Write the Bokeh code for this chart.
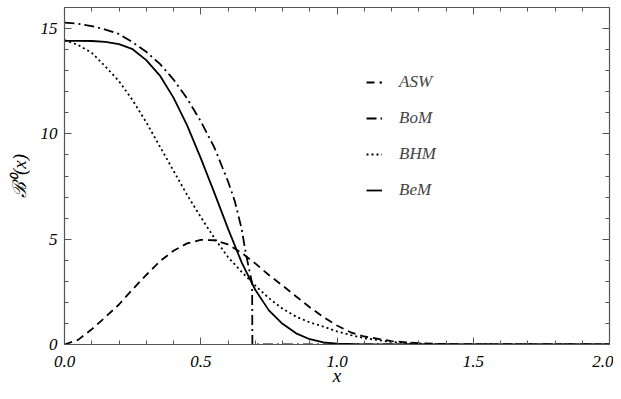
from bokeh.plotting import figure
from bokeh.models import Range1d, FixedTicker, LinearAxis, Legend, LegendItem
from bokeh.embed import file_html
from bokeh.resources import INLINE

# ---- data ----
asw_x = [0, 0.05, 0.1, 0.15, 0.2, 0.25, 0.3, 0.35, 0.4, 0.45, 0.5, 0.55, 0.6, 0.65, 0.7,
         0.75, 0.8, 0.85, 0.9, 0.95, 1.0, 1.05, 1.1, 1.2, 1.3, 1.4, 1.5, 2.0]
asw_y = [0, 0.22, 0.72, 1.3, 1.9, 2.62, 3.3, 3.95, 4.45, 4.8, 4.97, 4.95, 4.75, 4.35, 3.85,
         3.3, 2.8, 2.28, 1.77, 1.3, 0.9, 0.58, 0.38, 0.16, 0.06, 0.02, 0.0, 0.0]

bom_x = [0, 0.05, 0.1, 0.15, 0.2, 0.25, 0.3, 0.35, 0.4, 0.45, 0.5, 0.55, 0.6, 0.625, 0.65,
         0.665, 0.677, 0.686, 0.6885, 0.6895, 2.0]
bom_y = [15.28, 15.23, 15.12, 14.95, 14.74, 14.35, 13.9, 13.32, 12.58, 11.68, 10.6, 9.35, 7.75,
         6.8, 5.5, 4.35, 3.6, 3.05, 2.9, 0.0, 0.0]

bhm_x = [0, 0.05, 0.1, 0.15, 0.2, 0.25, 0.3, 0.35, 0.4, 0.45, 0.5, 0.55, 0.6, 0.65, 0.7,
         0.75, 0.8, 0.85, 0.9, 0.95, 1.0, 1.05, 1.1, 1.2, 1.3, 1.4, 2.0]
bhm_y = [14.45, 14.22, 13.85, 13.2, 12.5, 11.6, 10.55, 9.4, 8.25, 7.1, 6.05, 5.05, 4.15,
         3.45, 2.8, 2.2, 1.7, 1.32, 1.05, 0.85, 0.62, 0.45, 0.3, 0.12, 0.04, 0.01, 0.0]

bem_x = [0, 0.05, 0.1, 0.15, 0.2, 0.25, 0.3, 0.35, 0.4, 0.45, 0.5, 0.55, 0.6, 0.65, 0.7,
         0.75, 0.8, 0.85, 0.9, 0.95, 1.0, 1.1, 1.2, 2.0]
bem_y = [14.42, 14.42, 14.41, 14.37, 14.26, 14.02, 13.5, 12.77, 11.72, 10.4, 8.85, 7.2, 5.5,
         3.9, 2.6, 1.62, 0.98, 0.53, 0.25, 0.1, 0.04, 0.01, 0.0, 0.0]

series_names = ["ASW", "BoM", "BHM", "BeM"]

x_ticks = [0, 0.5, 1.0, 1.5, 2.0]
x_tick_labels = ["0.0", "0.5", "1.0", "1.5", "2.0"]
x_minor = [i / 10 for i in range(21)]
y_ticks = [0, 5, 10, 15]
y_tick_labels = ["0", "5", "10", "15"]
y_minor = list(range(17))

FONT = "Liberation Serif"
AX = "#555555"

p = figure(width=613, height=391, output_backend="svg", toolbar_location=None,
           x_range=Range1d(0, 2), y_range=Range1d(0, 16),
           x_axis_location=None, y_axis_location=None,
           min_border_left=64, min_border_right=4, min_border_top=7, min_border_bottom=47)
p.grid.visible = False
p.outline_line_color = None
p.background_fill_color = "white"
p.border_fill_color = "white"

bottom_ax = LinearAxis()
left_ax = LinearAxis()
top_ax = LinearAxis()
right_ax = LinearAxis()
p.add_layout(bottom_ax, "below")
p.add_layout(left_ax, "left")
p.add_layout(top_ax, "above")
p.add_layout(right_ax, "right")


def style(ax, ticks, minor, labels):
    ax.ticker = FixedTicker(ticks=ticks, minor_ticks=minor)
    ax.major_tick_in = 7
    ax.major_tick_out = 0
    ax.minor_tick_in = 4
    ax.minor_tick_out = 0
    ax.axis_line_color = AX
    ax.major_tick_line_color = AX
    ax.minor_tick_line_color = AX
    ax.axis_line_width = 1.2
    if labels is None:
        ax.major_label_overrides = {t: "" for t in ticks}
        ax.major_label_standoff = 0
        ax.major_label_text_font_size = "1px"
    else:
        ax.major_label_overrides = {t: l for t, l in zip(ticks, labels)}
        ax.major_label_text_font = FONT
        ax.major_label_text_font_style = "italic"
        ax.major_label_text_font_size = "17px"
        ax.major_label_text_color = "black"


style(bottom_ax, x_ticks, x_minor, x_tick_labels)
style(left_ax, y_ticks, y_minor, y_tick_labels)
style(top_ax, x_ticks, x_minor, None)
style(right_ax, y_ticks, y_minor, None)

bottom_ax.major_label_standoff = 11
left_ax.major_label_standoff = 7
bottom_ax.axis_label = "x"
left_ax.axis_label = "\u212C\u2070(x)"
for ax in (bottom_ax, left_ax):
    ax.axis_label_text_font = FONT
    ax.axis_label_text_font_style = "italic"
    ax.axis_label_text_font_size = "19px"
    ax.axis_label_text_color = "black"
bottom_ax.axis_label_standoff = -5
left_ax.axis_label_standoff = 8

r_asw = p.line(asw_x, asw_y, line_color="black", line_width=1.8, line_dash="8 5")
r_bom = p.line(bom_x, bom_y, line_color="black", line_width=1.8, line_dash="10 4 2 4")
r_bhm = p.line(bhm_x, bhm_y, line_color="black", line_width=1.8, line_dash="2 3")
r_bem = p.line(bem_x, bem_y, line_color="black", line_width=1.8)

legend = Legend(items=[LegendItem(label=n, renderers=[r])
                       for n, r in zip(series_names, [r_asw, r_bom, r_bhm, r_bem])],
                location=(302, 144))
legend.background_fill_alpha = 0
legend.border_line_alpha = 0
legend.padding = 0
legend.margin = 0
legend.spacing = 16
legend.glyph_width = 16
legend.glyph_height = 20
legend.label_height = 20
legend.label_standoff = 17
legend.label_text_font = FONT
legend.label_text_font_style = "italic"
legend.label_text_font_size = "17px"
p.add_layout(legend)

open("out.html", "w").write(file_html(p, INLINE))
